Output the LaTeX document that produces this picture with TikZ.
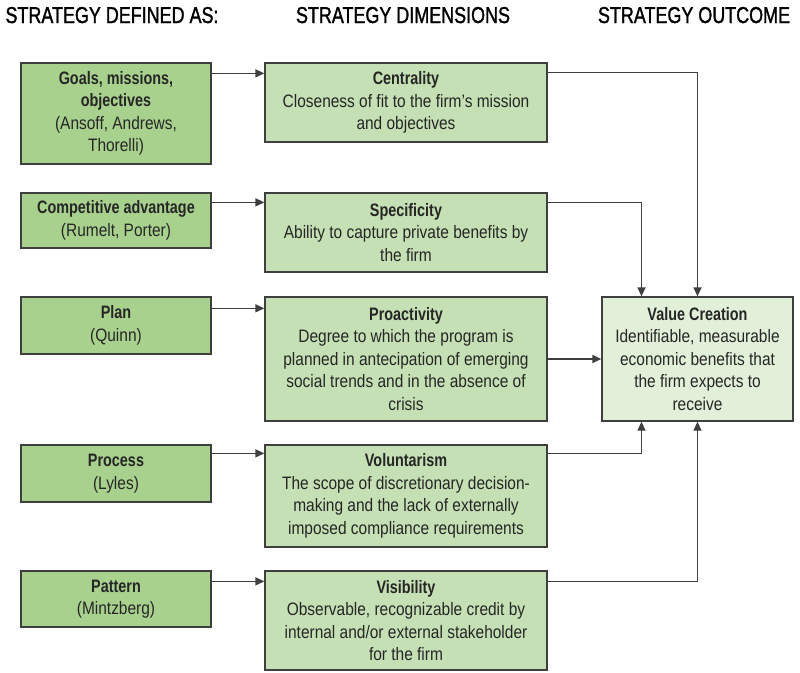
\documentclass[tikz,border=0pt]{standalone}
\usepackage{fontspec}
\setmainfont{Liberation Sans}[FakeStretch=0.86, BoldFeatures={FakeStretch=0.8}]
\newfontfamily\hdfont{Liberation Sans}[FakeStretch=0.78, FakeBold=1.3]
\usetikzlibrary{arrows.meta}
\definecolor{defgreen}{HTML}{A9D18E}
\definecolor{dimgreen}{HTML}{C5E0B4}
\definecolor{outgreen}{HTML}{E2F0D9}
\definecolor{edgegray}{HTML}{3F3F3F}
\definecolor{txtgray}{HTML}{262626}
\newcommand\boxtitle[1]{{\bfseries #1}}
\tikzset{
  box/.style={draw=edgegray, line width=1.3pt, inner sep=0pt, align=center,
    text=txtgray, font=\fontsize{18}{22.5}\selectfont},
  defbox/.style={box, fill=defgreen, minimum width=190pt},
  dimbox/.style={box, fill=dimgreen, minimum width=282pt},
  outbox/.style={box, fill=outgreen, minimum width=191pt},
  header/.style={anchor=base, font=\hdfont\fontsize{23}{27}\selectfont, text=black},
  arr/.style={draw=edgegray, line width=1.3pt, -{Triangle[length=9pt,width=8pt]}}
}
\begin{document}
\begin{tikzpicture}[x=1pt, y=-1pt]
\useasboundingbox (0,0) rectangle (800,672);

% column headings
\node[header] (h1) at (112,23) {STRATEGY DEFINED AS:};
\node[header] (h2) at (403,23) {STRATEGY DIMENSIONS};
\node[header] (h3) at (694,23) {STRATEGY OUTCOME};

% definitions of strategy
\node[defbox, minimum height=101pt] (g1) at (116,113.5)
  {\boxtitle{Goals, missions,}\\ \boxtitle{objectives}\\ (Ansoff, Andrews,\\ Thorelli)};
\node[defbox, minimum height=55pt] (g2) at (116,220.5)
  {\boxtitle{Competitive advantage}\\ (Rumelt, Porter)};
\node[defbox, minimum height=57pt] (g3) at (116,325.5)
  {\boxtitle{Plan}\\ (Quinn)};
\node[defbox, minimum height=57pt] (g4) at (116,473.5)
  {\boxtitle{Process}\\ (Lyles)};
\node[defbox, minimum height=56pt] (g5) at (116,599)
  {\boxtitle{Pattern}\\ (Mintzberg)};

% strategy dimensions
\node[dimbox, minimum height=79pt] (c1) at (406,102.5)
  {\boxtitle{Centrality}\\ Closeness of fit to the firm's mission\\ and objectives};
\node[dimbox, minimum height=79pt] (c2) at (406,232.5)
  {\boxtitle{Specificity}\\ Ability to capture private benefits by\\ the firm};
\node[dimbox, minimum height=124pt] (c3) at (406,359)
  {\boxtitle{Proactivity}\\ Degree to which the program is\\ planned in antecipation of emerging\\ social trends and in the absence of\\ crisis};
\node[dimbox, minimum height=102pt] (c4) at (406,496)
  {\boxtitle{Voluntarism}\\ The scope of discretionary decision-\\ making and the lack of externally\\ imposed compliance requirements};
\node[dimbox, minimum height=99pt] (c5) at (406,620.5)
  {\boxtitle{Visibility}\\ Observable, recognizable credit by\\ internal and/or external stakeholder\\ for the firm};

% outcome
\node[outbox, minimum height=124pt] (vc) at (697.5,359)
  {\boxtitle{Value Creation}\\ Identifiable, measurable\\ economic benefits that\\ the firm expects to\\ receive};

% definitions to dimensions
\draw[arr] ([yshift=-11pt]g1.north east) -- ([yshift=-11pt]c1.north west);
\draw[arr] ([yshift=-10pt]g2.north east) -- ([yshift=-10pt]c2.north west);
\draw[arr] ([yshift=-12pt]g3.north east) -- ([yshift=-12pt]c3.north west);
\draw[arr] ([yshift=-9pt]g4.north east) -- ([yshift=-9pt]c4.north west);
\draw[arr] ([yshift=-11pt]g5.north east) -- ([yshift=-11pt]c5.north west);

% dimensions to outcome
\draw[arr] ([yshift=-10pt]c1.north east) -| (vc.north);
\draw[arr] ([yshift=-10pt]c2.north east) -| ([xshift=-56pt]vc.north);
\draw[arr] (c3.east) -- (vc.west);
\draw[arr] ([yshift=-9pt]c4.north east) -| ([xshift=-56pt]vc.south);
\draw[arr] ([yshift=-11pt]c5.north east) -| (vc.south);
\end{tikzpicture}
\end{document}
